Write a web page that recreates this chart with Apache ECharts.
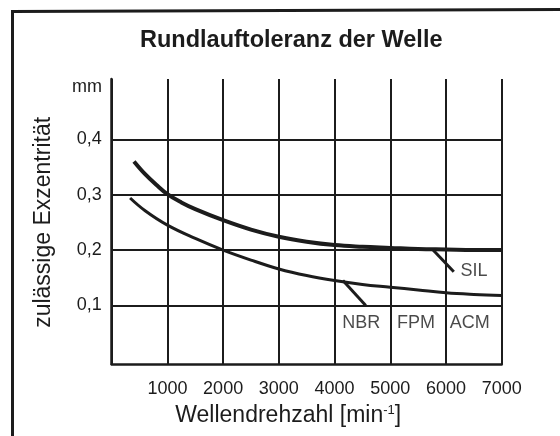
<!DOCTYPE html>
<html>
<head>
<meta charset="utf-8">
<script src="https://cdn.jsdelivr.net/npm/echarts@6/dist/echarts.min.js"></script>
<style>html,body{margin:0;padding:0;background:#fff;}#c{width:560px;height:436px;}</style>
</head>
<body>
<div id="c"></div>
<script>
// Data
const upperCurve = [[400,0.36],[600,0.337],[800,0.318],[1000,0.301],[1250,0.286],[1500,0.274],[2000,0.254],[2500,0.237],[3000,0.224],[3500,0.215],[4000,0.209],[4500,0.206],[5000,0.204],[5500,0.202],[6000,0.201],[6500,0.2],[7000,0.2]];
const lowerCurve = [[330,0.294],[600,0.271],[1000,0.245],[1500,0.221],[2000,0.2],[2500,0.182],[3000,0.166],[3500,0.154],[4000,0.145],[4500,0.138],[5000,0.133],[5500,0.128],[6000,0.123],[6500,0.12],[7000,0.118]];
const nbrMarker = [[4150,0.145],[4560,0.1]];
const silMarker = [[5760,0.201],[6140,0.161]];
const labelNames = ['SIL','NBR','FPM','ACM'];
const labelX = [6503,4480,5462,6426];
const labelY = [0.163,0.0675,0.0675,0.0675];
const xTickValues = [0,1000,2000,3000,4000,5000,6000,7000];
const yTickValues = [0.1,0.2,0.3,0.4];

const ink = '#1c1c1c';
const font = '"Liberation Sans", Arial, Helvetica, sans-serif';
const chart = echarts.init(document.getElementById('c'), null, {renderer:'canvas'});
const gL = 111.7, gR = 58.3;

chart.setOption({
  animation: false,
  backgroundColor: '#fff',
  title: [
    {text:'Rundlauftoleranz der Welle', left:140, top:29, padding:0,
     textStyle:{fontFamily:font, fontSize:23.5, fontWeight:'bold', color:ink}},
    {text:'mm', left:72, top:78, padding:0,
     textStyle:{fontFamily:font, fontSize:18, fontWeight:'normal', color:ink}}
  ],
  graphic: [{type:'polyline', shape:{points:[[12.5,436],[12.5,11.5],[560,9.5]]},
             style:{stroke:ink, lineWidth:3, fill:null}}],
  grid: [
    {left:gL, right:gR, top:79, bottom:72},
    {left:gL, right:gR, top:139.3, bottom:130.5}
  ],
  xAxis: [
    {gridIndex:0, type:'value', min:xTickValues[0], max:xTickValues[xTickValues.length-1], interval:1000,
     axisLine:{show:true, onZero:false, lineStyle:{color:ink, width:2.5}},
     axisTick:{show:false},
     splitLine:{show:true, lineStyle:{color:ink, width:2}},
     axisLabel:{fontFamily:font, fontSize:18, color:ink, margin:16,
       formatter: v => (v === 0 ? '' : String(v))},
     name:'Wellendrehzahl [min{sup|-1}]', nameLocation:'middle', nameGap:40,
     nameTextStyle:{fontFamily:font, fontSize:23, color:ink, padding:[0,37,0,0],
       rich:{sup:{fontFamily:font, fontSize:13, color:ink, verticalAlign:'top', padding:[0,0,10,0]}}}
    },
    {gridIndex:1, type:'value', min:0, max:7000, show:false}
  ],
  yAxis: [
    {gridIndex:0, type:'value', min:0, max:1,
     axisLine:{show:true, onZero:false, lineStyle:{color:ink, width:2.5}},
     axisTick:{show:false}, axisLabel:{show:false}, splitLine:{show:false}},
    {gridIndex:1, type:'value', min:yTickValues[0], max:yTickValues[yTickValues.length-1], interval:0.1,
     axisLine:{show:false}, axisTick:{show:false},
     splitLine:{show:true, lineStyle:{color:ink, width:2}},
     axisLabel:{fontFamily:font, fontSize:18, color:ink, margin:10,
       formatter: v => v.toFixed(1).replace('.', ',')},
     name:'zulässige Exzentrität', nameLocation:'middle', nameRotate:90, nameGap:57,
     nameTextStyle:{fontFamily:font, fontSize:23, color:ink}}
  ],
  series: [
    {type:'line', xAxisIndex:1, yAxisIndex:1, data:upperCurve, smooth:0.4, symbol:'none', clip:false,
     lineStyle:{color:ink, width:4}},
    {type:'line', xAxisIndex:1, yAxisIndex:1, data:lowerCurve, smooth:0.4, symbol:'none', clip:false,
     lineStyle:{color:ink, width:3}},
    {type:'line', xAxisIndex:1, yAxisIndex:1, data:nbrMarker, symbol:'none', clip:false,
     lineStyle:{color:ink, width:3}},
    {type:'line', xAxisIndex:1, yAxisIndex:1, data:silMarker, symbol:'none', clip:false,
     lineStyle:{color:ink, width:3}},
    {type:'scatter', xAxisIndex:1, yAxisIndex:1, clip:false, symbolSize:1, itemStyle:{color:'rgba(0,0,0,0)'},
     data: labelNames.map((n,i) => [labelX[i], labelY[i], n]),
     label:{show:true, position:'inside', formatter: p => p.data[2],
       fontFamily:font, fontSize:18, color:ink}}
  ]
});
</script>
</body>
</html>
